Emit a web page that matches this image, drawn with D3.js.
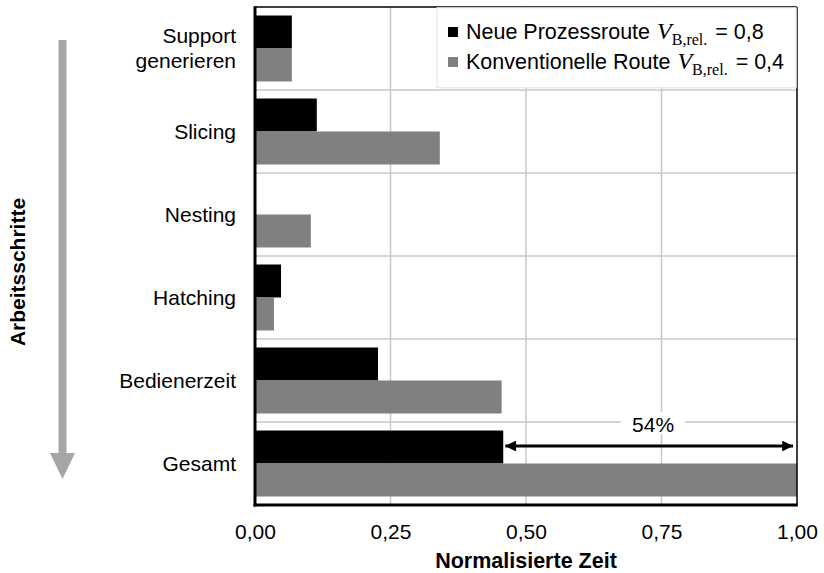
<!DOCTYPE html>
<html><head><meta charset="utf-8">
<script src="https://cdn.jsdelivr.net/npm/d3@7"></script>
<style>body{margin:0;background:#fff}svg{display:block}</style>
</head><body>
<svg id="c" width="824" height="573"></svg>
<script>
const categories = ["Support generieren","Slicing","Nesting","Hatching","Bedienerzeit","Gesamt"];
const neueRoute = [0.068, 0.114, 0.0, 0.048, 0.227, 0.458];
const konvRoute = [0.068, 0.341, 0.103, 0.035, 0.455, 1.0];
const seriesNames = ["Neue Prozessroute", "Konventionelle Route"];
const seriesVB = ["0,8", "0,4"];
const seriesColors = ["#000000", "#808080"];
const xTicks = [0, 0.25, 0.5, 0.75, 1.0];
const savingLabel = "54%";

const svg = d3.select("#c");
const font = "'Liberation Sans', Arial, sans-serif";
const serif = "'Liberation Serif', 'Times New Roman', serif";
const L = 255, R = 797, T = 7, B = 505;

const x = d3.scaleLinear().domain([0, 1]).range([L, R]);
const y = d3.scaleBand().domain(categories).range([T, B]).padding(0);
const ys = d3.scaleBand().domain(seriesNames).range([0, y.bandwidth()]).paddingInner(0).paddingOuter(0.258);
const loc = d3.formatLocale({decimal: ",", thousands: ".", grouping: [3], currency: ["", "€"]});
const fmt = loc.format(".2f");

// gridlines
svg.append("g").selectAll("line.v").data(xTicks.slice(1, -1)).join("line")
  .attr("x1", d => x(d)).attr("x2", d => x(d)).attr("y1", T).attr("y2", B)
  .attr("stroke", "#c8c8c8").attr("stroke-width", 1.5);
svg.append("g").selectAll("line.h").data(categories.slice(1)).join("line")
  .attr("x1", L).attr("x2", R).attr("y1", d => y(d)).attr("y2", d => y(d))
  .attr("stroke", "#c8c8c8").attr("stroke-width", 1.5);

// bars
const data = categories.map((c, i) => ({c, vals: [neueRoute[i], konvRoute[i]]}));
const g = svg.append("g");
data.forEach(d => {
  d.vals.forEach((v, j) => {
    g.append("rect")
      .attr("x", x(0)).attr("y", y(d.c) + ys(seriesNames[j]))
      .attr("width", x(v) - x(0)).attr("height", ys.bandwidth())
      .attr("fill", seriesColors[j]);
  });
});

// 54% label + arrow
const gi = categories.length - 1;
const ay = y("Gesamt") + ys(seriesNames[0]) + ys.bandwidth() / 2 - 1;
svg.append("defs").html(
  '<marker id="ah" viewBox="0 0 10 10" refX="10" refY="5" markerWidth="4.2" markerHeight="3.6" orient="auto-start-reverse" markerUnits="strokeWidth"><path d="M0,0 L10,5 L0,10 z" fill="#000"/></marker>');
svg.append("line")
  .attr("x1", x(neueRoute[gi]) + 2).attr("x2", x(konvRoute[gi]) - 4)
  .attr("y1", ay).attr("y2", ay)
  .attr("stroke", "#000").attr("stroke-width", 3)
  .attr("marker-start", "url(#ah)").attr("marker-end", "url(#ah)");
const lx = (x(neueRoute[gi]) + x(konvRoute[gi])) / 2 + 3;
svg.append("rect").attr("x", lx - 32).attr("y", y("Gesamt") - 10).attr("width", 64).attr("height", 22).attr("fill", "#fff");
svg.append("text").attr("x", lx).attr("y", y("Gesamt") + 10)
  .attr("text-anchor", "middle").attr("font-family", font).attr("font-size", 21).text(savingLabel);

// frame
svg.append("line").attr("x1", L).attr("x2", R).attr("y1", T).attr("y2", T).attr("stroke", "#000").attr("stroke-width", 1.5);
svg.append("line").attr("x1", R).attr("x2", R).attr("y1", T).attr("y2", B).attr("stroke", "#000").attr("stroke-width", 1.5);
svg.append("line").attr("x1", L).attr("x2", L).attr("y1", T - 0.75).attr("y2", B + 1.5).attr("stroke", "#000").attr("stroke-width", 3);
svg.append("line").attr("x1", L - 1.5).attr("x2", R + 0.75).attr("y1", B).attr("y2", B).attr("stroke", "#000").attr("stroke-width", 3);

// x axis
const xAxis = svg.append("g").attr("transform", `translate(0,${B})`)
  .call(d3.axisBottom(x).tickValues(xTicks).tickSize(0).tickPadding(19).tickFormat(fmt));
xAxis.select(".domain").remove();
xAxis.selectAll("text").attr("font-family", font).attr("font-size", 21).attr("fill", "#000");
svg.append("text").attr("x", (L + R) / 2).attr("y", 568).attr("text-anchor", "middle")
  .attr("font-family", font).attr("font-size", 21.5).attr("font-weight", "bold").text("Normalisierte Zeit");

// y labels
categories.forEach(c => {
  const parts = c === "Support generieren" ? ["Support", "generieren"] : [c];
  const cy = y(c) + y.bandwidth() / 2;
  parts.forEach((p, k) => {
    svg.append("text").attr("x", 236).attr("y", cy + (k - (parts.length - 1) / 2) * 25 + 7)
      .attr("text-anchor", "end").attr("font-family", font).attr("font-size", 21).text(p);
  });
});

// left arrow + title
svg.append("rect").attr("x", 58.5).attr("y", 40).attr("width", 8).attr("height", 415).attr("fill", "#a6a6a6");
svg.append("path").attr("d", "M50,453 L75,453 L62.5,479 Z").attr("fill", "#a6a6a6");
svg.append("text").attr("transform", "translate(25,272) rotate(-90)").attr("text-anchor", "middle")
  .attr("font-family", font).attr("font-size", 21).attr("font-weight", "bold").text("Arbeitsschritte");

// legend
svg.append("rect").attr("x", 437).attr("y", T + 0.75).attr("width", R - 437 - 0.75).attr("height", 80)
  .attr("fill", "#fff").attr("stroke", "#e3e3e3").attr("stroke-width", 1);
seriesNames.forEach((s, i) => {
  const ly = 32 + i * 30;
  svg.append("rect").attr("x", 448).attr("y", ly - 5).attr("width", 10).attr("height", 10).attr("fill", seriesColors[i]);
  const t = svg.append("text").attr("x", 466).attr("y", ly + 7).attr("font-family", font).attr("font-size", 21.5);
  t.append("tspan").text(s);
  t.append("tspan").attr("dx", 7).attr("font-family", serif).attr("font-style", "italic").attr("font-size", 24).text("V");
  t.append("tspan").attr("font-family", serif).attr("font-size", 16).attr("dy", 6).text("B,rel.");
  t.append("tspan").attr("dy", -6).attr("dx", 8).text("= " + seriesVB[i]);
});
</script>
</body></html>
